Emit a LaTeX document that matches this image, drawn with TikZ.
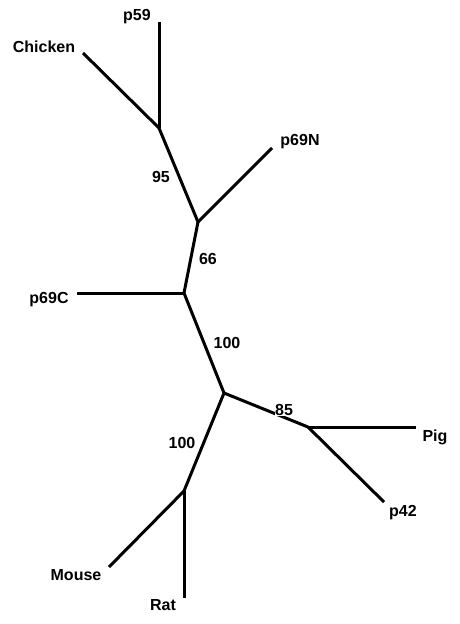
\documentclass[tikz,border=0pt]{standalone}
\usepackage{fontspec}
\setmainfont{Liberation Sans}
\begin{document}
\begin{tikzpicture}[x=1pt,y=-1pt,
  branch/.style={line width=3pt,line cap=butt,line join=miter},
  lbl/.style={font=\bfseries\fontsize{16}{19}\selectfont,inner sep=0pt},
  boot/.style={font=\bfseries\fontsize{16}{19}\selectfont,inner sep=0.5pt}]
\useasboundingbox (0,0) rectangle (460,624);
% internal junctions
\coordinate (A) at (159,128);
\coordinate (B) at (198,222);
\coordinate (C) at (184,293);
\coordinate (D) at (224,393);
\coordinate (E) at (308,427);
\coordinate (F) at (184,491);
% leaf ends
\coordinate (lp59) at (159,22);
\coordinate (lchicken) at (83,53);
\coordinate (lp69N) at (272,148);
\coordinate (lp69C) at (77,293);
\coordinate (lpig) at (416,427);
\coordinate (lp42) at (384,502);
\coordinate (lmouse) at (109,567);
\coordinate (lrat) at (184,598);
% branches
\draw[branch] (lp59) -- (A);
\draw[branch] (lchicken) -- (A);
\draw[branch] (A) -- (B);
\draw[branch] (lp69N) -- (B);
\draw[branch] (B) -- (C);
\draw[branch] (lp69C) -- (C);
\draw[branch] (C) -- (D);
\draw[branch] (D) -- (E);
\draw[branch] (E) -- (lpig);
\draw[branch] (E) -- (lp42);
\draw[branch] (D) -- (F);
\draw[branch] (F) -- (lmouse);
\draw[branch] (F) -- (lrat);
% leaf labels
\node[lbl] (tp59) at (137,17) {p59};
\node[lbl] (tchicken) at (44,47) {Chicken};
\node[lbl] (tp69N) at (300,142) {p69N};
\node[lbl] (tp69C) at (49,300) {p69C};
\node[lbl] (tpig) at (435,437) {Pig};
\node[lbl] (tp42) at (403,513) {p42};
\node[lbl] (tmouse) at (76,575) {Mouse};
\node[lbl] (trat) at (163,605) {Rat};
% bootstrap values
\node[lbl] (b95) at (161,177) {95};
\node[lbl] (b66) at (208,259) {66};
\node[lbl] (b100a) at (227,343) {100};
\node[boot,fill=white] (b85) at (284,410) {85};
\node[lbl] (b100b) at (182,443) {100};
\end{tikzpicture}
\end{document}
